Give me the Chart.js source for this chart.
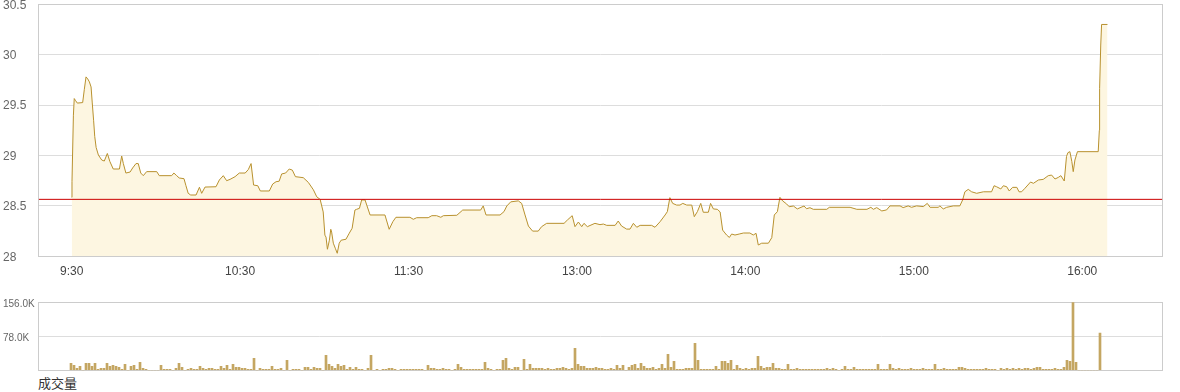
<!DOCTYPE html>
<html>
<head>
<meta charset="utf-8">
<script src="https://cdn.jsdelivr.net/npm/chart.js@4/dist/chart.umd.min.js"></script>
<style>
  body { margin: 0; background: #fff; }
  #wrap { position: relative; width: 1180px; height: 392px; }
  #priceChart { position: absolute; left: 0; top: 0; }
  #volChart { position: absolute; left: 0; top: 290px; }
  #volLabel {
    position: absolute; left: 38px; top: 376px;
    font: 13px "Noto Sans CJK SC", sans-serif; color: #333; line-height: 1;
  }
</style>
</head>
<body>
<div id="wrap">
  <canvas id="priceChart" width="1180" height="282"></canvas>
  <canvas id="volChart" width="1180" height="82"></canvas>
  <div id="volLabel">成交量</div>
</div>
<script>
// === Data ===
const tickMinutes = [0, 60, 120, 180, 240, 300, 360];
const tickLabels = ["9:30", "10:30", "11:30", "13:00", "14:00", "15:00", "16:00"];
const priceTicks = [28, 28.5, 29, 29.5, 30, 30.5];
const prevClose = 28.565;

// minute offset from 9:30 and price at each turning point of the line
const priceMinutes = [
  0, 0.1, 0.6, 0.9, 1.4, 2.0, 3.9, 4.5, 5.1, 5.7, 6.3, 6.9, 7.3, 7.8, 8.2, 8.7, 9.5, 10.7, 11.6, 12.7,
  13.6, 14.8, 17.0, 17.8, 18.4, 19.3, 20.8, 21.7, 22.9, 23.7, 24.6, 25.5, 26.7, 30.3, 31.2, 35.6, 36.4, 37.4, 38.3, 40.0,
  40.7, 41.5, 42.4, 44.3, 45.5, 46.3, 47.5, 51.4, 52.6, 54.0, 55.2, 56.4, 58.2, 59.7, 61.8, 62.9, 63.9, 64.8, 66.3, 67.2,
  70.4, 71.6, 72.8, 73.9, 74.8, 76.2, 77.5, 78.6, 79.7, 82.5, 84.3, 86.1, 87.3, 88.5, 89.6, 90.2, 90.6, 91.1, 91.8, 92.3,
  92.6, 93.2, 93.9, 94.6, 95.3, 96.0, 97.7, 98.9, 99.9, 100.9, 101.5, 102.5, 103.3, 104.5, 105.1, 106.3, 111.6, 113.1, 114.4, 115.5,
  120.5, 121.7, 122.9, 127.0, 128.3, 130.0, 131.5, 132.4, 137.2, 139.3, 145.7, 146.6, 147.6, 152.6, 154.0, 155.0, 156.4, 159.1, 160.3, 161.5,
  162.7, 164.2, 166.2, 167.4, 169.2, 175.4, 176.6, 178.3, 179.3, 180.5, 181.7, 182.5, 183.7, 186.4, 188.2, 189.4, 190.6, 193.6, 194.7, 195.9,
  197.7, 198.9, 200.1, 201.3, 202.5, 206.6, 207.8, 209.6, 211.4, 212.2, 213.1, 214.1, 215.5, 216.7, 217.7, 219.1, 220.9, 221.8, 222.9, 224.1,
  225.0, 226.8, 227.6, 228.6, 230.0, 231.0, 231.9, 233.3, 234.3, 235.1, 236.3, 237.8, 239.3, 241.6, 242.8, 243.8, 244.6, 245.8, 248.2, 249.4,
  250.3, 251.4, 252.3, 253.3, 254.7, 255.6, 257.1, 258.5, 260.9, 261.8, 263.0, 264.2, 269.0, 269.9, 277.3, 279.7, 283.3, 284.7, 285.6, 286.8,
  288.6, 290.3, 291.5, 295.1, 296.2, 298.0, 299.2, 301.0, 303.4, 304.8, 305.8, 308.7, 309.3, 310.5, 311.7, 314.1, 316.4, 317.4, 318.2, 319.4,
  320.6, 322.4, 324.8, 327.7, 328.6, 329.5, 331.0, 331.9, 333.1, 334.0, 335.2, 336.7, 337.5, 338.4, 339.6, 341.6, 342.6, 344.4, 346.1, 347.9,
  349.1, 350.3, 351.5, 352.4, 353.6, 354.4, 354.9, 355.6, 356.3, 356.8, 357.4, 358.3, 365.7, 366.1, 366.2, 366.6, 366.9, 369.0,
];
const priceValues = [
  28.585, 28.74, 29.40, 29.565, 29.544, 29.52, 29.525, 29.657, 29.78, 29.76, 29.73, 29.68, 29.53, 29.35, 29.19, 29.08, 29.005, 28.955, 28.945, 29.02,
  28.94, 28.866, 28.866, 28.995, 28.92, 28.826, 28.836, 28.876, 28.92, 28.92, 28.826, 28.80, 28.84, 28.84, 28.80, 28.80, 28.826, 28.80, 28.777, 28.77,
  28.70, 28.625, 28.608, 28.608, 28.685, 28.625, 28.687, 28.69, 28.757, 28.80, 28.75, 28.763, 28.79, 28.826, 28.826, 28.86, 28.92, 28.707, 28.70, 28.648,
  28.648, 28.717, 28.74, 28.745, 28.817, 28.826, 28.866, 28.855, 28.79, 28.78, 28.733, 28.66, 28.59, 28.565, 28.44, 28.21, 28.19, 28.07, 28.16, 28.268,
  28.24, 28.13, 28.08, 28.03, 28.13, 28.16, 28.169, 28.23, 28.278, 28.459, 28.466, 28.476, 28.559, 28.559, 28.509, 28.41, 28.41, 28.268, 28.343, 28.387,
  28.387, 28.367, 28.383, 28.383, 28.403, 28.403, 28.387, 28.403, 28.407, 28.459, 28.459, 28.50, 28.41, 28.41, 28.443, 28.499, 28.54, 28.55, 28.525, 28.41,
  28.30, 28.25, 28.25, 28.294, 28.327, 28.327, 28.36, 28.403, 28.294, 28.34, 28.294, 28.327, 28.294, 28.327, 28.314, 28.32, 28.307, 28.307, 28.35, 28.30,
  28.27, 28.27, 28.327, 28.288, 28.307, 28.307, 28.288, 28.343, 28.41, 28.443, 28.582, 28.525, 28.508, 28.508, 28.525, 28.508, 28.508, 28.393, 28.443, 28.525,
  28.437, 28.437, 28.525, 28.47, 28.466, 28.44, 28.26, 28.211, 28.187, 28.221, 28.211, 28.221, 28.231, 28.231, 28.211, 28.228, 28.112, 28.13, 28.13, 28.185,
  28.41, 28.443, 28.585, 28.549, 28.519, 28.492, 28.499, 28.47, 28.499, 28.472, 28.482, 28.466, 28.466, 28.486, 28.486, 28.466, 28.466, 28.486, 28.466, 28.483,
  28.45, 28.46, 28.50, 28.50, 28.483, 28.50, 28.486, 28.50, 28.493, 28.525, 28.486, 28.486, 28.50, 28.47, 28.486, 28.50, 28.50, 28.559, 28.64, 28.664,
  28.64, 28.625, 28.64, 28.64, 28.70, 28.69, 28.668, 28.70, 28.69, 28.648, 28.684, 28.684, 28.64, 28.64, 28.675, 28.737, 28.724, 28.757, 28.763, 28.80,
  28.806, 28.767, 28.783, 28.80, 28.747, 28.99, 29.028, 29.038, 28.94, 28.84, 28.955, 29.038, 29.038, 29.25, 29.666, 30.096, 30.30, 30.30,
];

// volume per bar slot, in thousands
const volTicks = [0, 78, 156];
const volumes = [
  16.1, 11.5, 4.6, 9.2, 0, 16.1, 16.1, 9.2, 16.1, 2.3,
  4.6, 4.6, 16.1, 9.2, 11.5, 9.2, 6.9, 2.3, 13.8, 0,
  9.2, 11.5, 2.3, 18.4, 4.6, 2.3, 0, 0, 0, 0,
  11.5, 2.3, 2.3, 2.3, 0, 4.6, 16.1, 6.9, 0, 2.3,
  4.6, 2.3, 2.3, 9.2, 4.6, 2.3, 4.6, 4.6, 2.3, 2.3,
  9.2, 4.6, 11.5, 2.3, 13.8, 6.9, 6.9, 4.6, 4.6, 2.3,
  2.3, 27.5, 0, 4.6, 2.3, 2.3, 2.3, 9.2, 2.3, 2.3,
  4.6, 0, 22.9, 0, 2.3, 2.3, 2.3, 0, 6.9, 6.9,
  2.3, 6.9, 4.6, 4.6, 0, 34.4, 13.8, 9.2, 4.6, 13.8,
  9.2, 11.5, 2.3, 6.9, 2.3, 6.9, 2.3, 2.3, 0, 4.6,
  34.4, 0, 2.3, 0, 2.3, 2.3, 4.6, 4.6, 2.3, 0,
  2.3, 2.3, 2.3, 2.3, 2.3, 2.3, 2.3, 2.3, 0, 11.5,
  4.6, 4.6, 2.3, 2.3, 4.6, 2.3, 2.3, 0, 2.3, 13.8,
  6.9, 2.3, 2.3, 2.3, 2.3, 2.3, 2.3, 2.3, 18.4, 4.6,
  2.3, 0, 2.3, 2.3, 22.9, 27.5, 4.6, 2.3, 6.9, 6.9,
  0, 25.2, 2.3, 13.8, 4.6, 4.6, 4.6, 4.6, 2.3, 4.6,
  2.3, 2.3, 4.6, 4.6, 6.9, 4.6, 2.3, 4.6, 50.5, 13.8,
  9.2, 9.2, 4.6, 4.6, 4.6, 6.9, 4.6, 4.6, 2.3, 2.3,
  4.6, 2.3, 11.5, 4.6, 11.5, 0, 6.9, 11.5, 13.8, 4.6,
  16.1, 9.2, 4.6, 4.6, 6.9, 2.3, 4.6, 13.8, 4.6, 36.7,
  6.9, 20.6, 2.3, 2.3, 2.3, 4.6, 4.6, 4.6, 61.9, 22.9,
  2.3, 2.3, 2.3, 2.3, 2.3, 9.2, 2.3, 20.6, 20.6, 16.1,
  22.9, 2.3, 11.5, 4.6, 2.3, 4.6, 2.3, 4.6, 4.6, 32.1,
  9.2, 4.6, 6.9, 6.9, 16.1, 4.6, 4.6, 2.3, 2.3, 13.8,
  2.3, 2.3, 4.6, 2.3, 2.3, 2.3, 2.3, 2.3, 2.3, 2.3,
  2.3, 2.3, 4.6, 2.3, 4.6, 2.3, 0, 2.3, 9.2, 2.3,
  2.3, 6.9, 2.3, 2.3, 2.3, 2.3, 2.3, 2.3, 2.3, 13.8,
  2.3, 2.3, 2.3, 13.8, 4.6, 2.3, 4.6, 2.3, 2.3, 2.3,
  4.6, 2.3, 2.3, 2.3, 4.6, 2.3, 2.3, 2.3, 13.8, 2.3,
  2.3, 4.6, 2.3, 2.3, 2.3, 2.3, 6.9, 6.9, 4.6, 2.3,
  2.3, 2.3, 2.3, 2.3, 2.3, 4.6, 2.3, 2.3, 2.3, 0,
  4.6, 2.3, 4.6, 2.3, 4.6, 2.3, 4.6, 2.3, 4.6, 4.6,
  2.3, 4.6, 6.9, 6.9, 2.3, 2.3, 2.3, 2.3, 4.6, 2.3,
  2.3, 6.9, 22.9, 20.6, 156.0, 18.4, 0, 0, 0, 0,
  0, 0, 0, 85.6,
];

// === Shared look ===
Chart.defaults.font.family = '"Liberation Sans", Arial, sans-serif';
Chart.defaults.animation = false;

const X_MIN = -11.76, X_MAX = 388.53;   // price x axis (minutes)
const V_MIN = -10.77, V_MAX = 363.77;   // volume x axis (bar slots)

// grey frame round the plot area
const frame = {
  id: "frame",
  beforeDatasetsDraw(chart) {
    const a = chart.chartArea, ctx = chart.ctx;
    ctx.save();
    ctx.strokeStyle = "#cccccc";
    ctx.lineWidth = 1;
    const l = Math.floor(a.left) + 0.5, t = Math.floor(a.top) + 0.5;
    const r = Math.floor(a.right) + 0.5, b = Math.floor(a.bottom) + 0.5;
    ctx.strokeRect(l, t, r - l, b - t);
    ctx.restore();
  },
};

// fixed width for the y axis, no extra room for its end labels
function fitY(s) {
  s.width = 35.7;
  s.paddingTop = 0;
  s.paddingBottom = 0;
}

// === Price chart ===
new Chart(document.getElementById("priceChart"), {
  type: "line",
  data: {
    datasets: [
      {
        data: [{ x: X_MIN, y: prevClose }, { x: X_MAX, y: prevClose }],
        borderColor: "#cc0000",
        borderWidth: 1,
        pointRadius: 0,
        fill: false,
      },
      {
        data: priceMinutes.map((m, i) => ({ x: m, y: priceValues[i] })),
        borderColor: "#b8912e",
        backgroundColor: "#fdf6e1",
        borderWidth: 1,
        pointRadius: 0,
        tension: 0,
        fill: "start",
      },
    ],
  },
  options: {
    responsive: false,
    layout: { padding: { left: 3, right: 17.7, top: 4.3, bottom: 0 } },
    plugins: { legend: { display: false }, tooltip: { enabled: false } },
    scales: {
      x: {
        type: "linear",
        min: X_MIN,
        max: X_MAX,
        afterBuildTicks: (s) => { s.ticks = tickMinutes.map((v) => ({ value: v })); },
        afterFit: (s) => { s.height = 25.7; s.paddingLeft = 0; s.paddingRight = 0; },
        grid: { display: false, drawTicks: false },
        border: { display: false },
        ticks: {
          autoSkip: false,
          maxRotation: 0,
          padding: 8,
          color: "#444",
          font: { size: 12 },
          callback: (v) => tickLabels[tickMinutes.indexOf(v)],
        },
      },
      y: {
        min: priceTicks[0],
        max: priceTicks[priceTicks.length - 1],
        afterBuildTicks: (s) => { s.ticks = priceTicks.map((v) => ({ value: v })); },
        afterFit: fitY,
        grid: { color: "#dddddd", drawTicks: false },
        border: { display: false },
        ticks: {
          crossAlign: "far",
          labelOffset: 1,
          color: "#666",
          font: { size: 12 },
          callback: (v) => String(v),
        },
      },
    },
  },
  plugins: [frame],
});

// === Volume chart ===
new Chart(document.getElementById("volChart"), {
  type: "bar",
  data: {
    datasets: [
      {
        data: volumes.map((v, i) => ({ x: i, y: v })),
        backgroundColor: "#c4a662",
        barThickness: 2,
        borderWidth: 0,
      },
    ],
  },
  options: {
    responsive: false,
    layout: { padding: { left: 3, right: 17.7, top: 12.3, bottom: 1.7 } },
    plugins: { legend: { display: false }, tooltip: { enabled: false } },
    scales: {
      x: { type: "linear", min: V_MIN, max: V_MAX, offset: false, display: false },
      y: {
        min: volTicks[0],
        max: volTicks[volTicks.length - 1],
        afterBuildTicks: (s) => { s.ticks = volTicks.map((v) => ({ value: v })); },
        afterFit: fitY,
        grid: { color: "#dddddd", drawTicks: false },
        border: { display: false },
        ticks: {
          crossAlign: "far",
          labelOffset: 1.5,
          color: "#666",
          font: { size: 10 },
          callback: (v) => (v === 0 ? "" : v.toFixed(1) + "K"),
        },
      },
    },
  },
  plugins: [frame],
});
</script>
</body>
</html>
